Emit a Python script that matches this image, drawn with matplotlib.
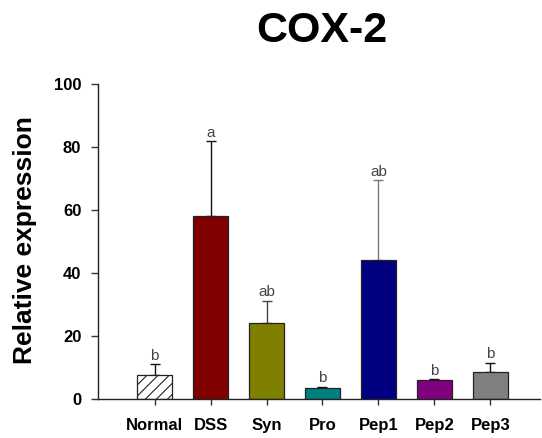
import matplotlib
matplotlib.use("Agg")
import matplotlib.pyplot as plt
import numpy as np

categories = ["Normal", "DSS", "Syn", "Pro", "Pep1", "Pep2", "Pep3"]
means = [7.5, 58.2, 24.0, 3.4, 44.0, 6.0, 8.5]
errors = [3.5, 23.6, 7.2, 0.4, 25.4, 0.3, 3.0]
letters = ["b", "a", "ab", "b", "ab", "b", "b"]
colors = ["white", "#800000", "#808000", "#008080", "#000080", "#800080", "#808080"]
err_colors = ["#111111", "#111111", "#444444", "#111111", "#777777", "#111111", "#111111"]
yticks = [0, 20, 40, 60, 80, 100]

plt.rcParams['font.family'] = ['Liberation Sans', 'DejaVu Sans']
plt.rcParams['hatch.linewidth'] = 0.8

fig = plt.figure(figsize=(5.42, 4.38), dpi=100)
ax = fig.add_axes([98/542, 1 - 399/438, (540 - 98)/542, (399 - 84)/438])

x = np.arange(len(categories))
for i in range(len(categories)):
    ax.bar(x[i], means[i], width=0.61, color=colors[i], edgecolor="#222222",
           linewidth=0.9, hatch="///" if i == 0 else None, zorder=2)
    ax.errorbar(x[i], means[i], yerr=[[0], [errors[i]]], fmt="none",
                ecolor=err_colors[i], elinewidth=1.0, capsize=3.6, capthick=1.0, zorder=1)
    ax.text(x[i], means[i] + errors[i] + 0.5, letters[i], ha="center", va="bottom",
            fontsize=11, color="#444444")

ax.set_xlim(-1.009, 6.884)
ax.set_ylim(0, 100)
ax.set_yticks(yticks)
ax.set_yticklabels([str(v) for v in yticks], fontweight="bold", fontsize=12)
ax.set_xticks(x)
ax.set_xticklabels(categories, fontweight="bold", fontsize=12)
ax.tick_params(axis="y", direction="out", length=5, width=1, pad=7, color="#333333")
ax.tick_params(axis="x", direction="out", length=4, width=1, pad=10, color="#333333")
for s in ["top", "right"]:
    ax.spines[s].set_visible(False)
for s in ["left", "bottom"]:
    ax.spines[s].set_linewidth(1.0)
    ax.spines[s].set_color("#222222")

fig.text(322/542, 1 - 31/438, "COX-2", ha="center", va="center", fontsize=31, fontweight="bold")
fig.text(25.5/542, 1 - 240/438, "Relative expression", ha="center", va="center",
         rotation=90, fontsize=19, fontweight="bold")

fig.savefig("out.png", dpi=100)
